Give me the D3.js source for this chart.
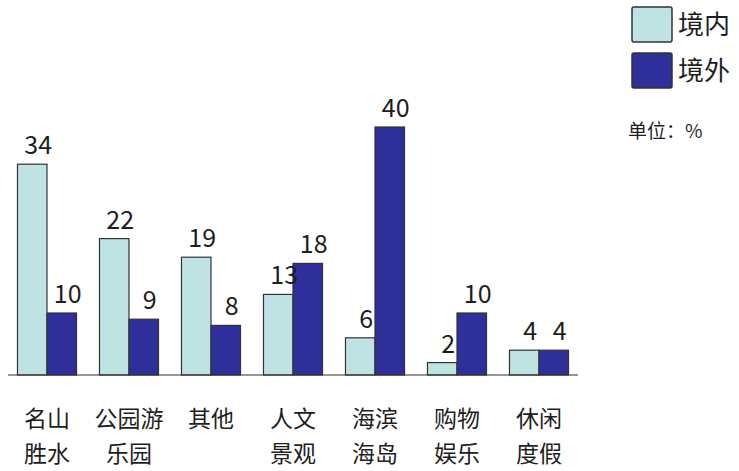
<!DOCTYPE html>
<html>
<head>
<meta charset="utf-8">
<script src="https://cdn.jsdelivr.net/npm/d3@7"></script>
<style>
  body { margin: 0; background: #fff; }
  text { font-family: "Noto Sans CJK SC", "Noto Sans", sans-serif; fill: #1e1e1e; }
</style>
</head>
<body>
<div id="chart"></div>
<script>
// ---- data
var categories = ["名山胜水", "公园游乐园", "其他", "人文景观", "海滨海岛", "购物娱乐", "休闲度假"];
var catLines = [["名山", "胜水"], ["公园游", "乐园"], ["其他"], ["人文", "景观"], ["海滨", "海岛"], ["购物", "娱乐"], ["休闲", "度假"]];
var inland = [34, 22, 19, 13, 6, 2, 4];   // 境内
var abroad = [10, 9, 8, 18, 40, 10, 4];   // 境外
var seriesNames = ["境内", "境外"];
var unitLabel = "单位：%";

var svgWidth = 739;
var svgHeight = 471;
var colors = ["#bfe2e3", "#2f2f9b"];

var svg = d3.select("#chart").append("svg")
    .attr("width", svgWidth)
    .attr("height", svgHeight);

// scales
var x = d3.scaleBand()
    .domain(categories)
    .range([6, 580])
    .paddingInner(0.28)
    .paddingOuter(0.14);

var xs = d3.scaleBand()
    .domain(seriesNames)
    .range([0, x.bandwidth()]);

var y = d3.scaleLinear()
    .domain([0, 40])
    .range([375, 127]);

var rows = categories.map(function(c, i) {
    return { cat: c, values: [inland[i], abroad[i]] };
});

// bars
var groups = svg.selectAll(".grp")
    .data(rows)
    .enter().append("g")
    .attr("class", "grp")
    .attr("transform", function(d) { return "translate(" + x(d.cat) + ",0)"; });

groups.selectAll("rect")
    .data(function(d) { return d.values.map(function(v, j) { return { key: seriesNames[j], value: v, j: j }; }); })
    .enter().append("rect")
    .attr("x", function(d) { return xs(d.key); })
    .attr("y", function(d) { return y(d.value); })
    .attr("width", xs.bandwidth())
    .attr("height", function(d) { return y(0) - y(d.value); })
    .attr("fill", function(d) { return colors[d.j]; })
    .attr("stroke", "#333")
    .attr("stroke-width", 1.2);

// value labels
groups.selectAll(".val")
    .data(function(d) { return d.values.map(function(v, j) { return { key: seriesNames[j], value: v }; }); })
    .enter().append("text")
    .attr("class", "val")
    .attr("x", function(d) { return xs(d.key) + xs.bandwidth() / 2 + 6; })
    .attr("y", function(d) { return y(d.value) - 10; })
    .attr("text-anchor", "middle")
    .style("font-size", "25px")
    .text(function(d) { return d.value; });

// baseline
svg.append("line")
    .attr("x1", 8)
    .attr("x2", 578)
    .attr("y1", y(0))
    .attr("y2", y(0))
    .attr("stroke", "#333")
    .attr("stroke-width", 1.2);

// category labels, two lines each
var catText = svg.selectAll(".cat")
    .data(categories)
    .enter().append("text")
    .attr("class", "cat")
    .attr("text-anchor", "middle")
    .style("font-size", "23px");

catText.selectAll("tspan")
    .data(function(d, i) { return catLines[i].map(function(s) { return { s: s, c: d }; }); })
    .enter().append("tspan")
    .attr("x", function(d) { return x(d.c) + x.bandwidth() / 2; })
    .attr("y", function(d, k) { return 427 + k * 35; })
    .text(function(d) { return d.s; });

// legend
var legend = svg.append("g").attr("transform", "translate(632,7)");
seriesNames.forEach(function(name, i) {
    legend.append("rect")
        .attr("x", 0)
        .attr("y", i * 46)
        .attr("width", 40)
        .attr("height", 35)
        .attr("rx", 2)
        .attr("fill", colors[i])
        .attr("stroke", "#333")
        .attr("stroke-width", 1.5);
    legend.append("text")
        .attr("x", 46)
        .attr("y", i * 46 + 27)
        .style("font-size", "26px")
        .text(name);
});

svg.append("text")
    .attr("x", 628)
    .attr("y", 138)
    .style("font-size", "19px")
    .text(unitLabel);
</script>
</body>
</html>
